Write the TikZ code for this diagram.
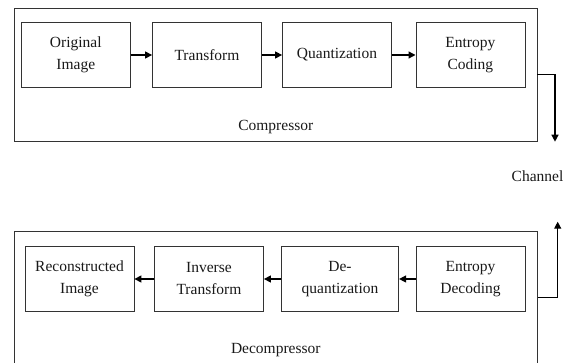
\documentclass[tikz,border=0pt]{standalone}
\usepackage{fontspec}
\setmainfont{Liberation Serif}
\usetikzlibrary{arrows.meta}

\tikzset{
  block/.style={draw=black!80, line width=0.8pt, minimum width=109pt, minimum height=64.6pt,
    inner sep=0pt, align=center, text=black!90, font=\fontsize{15.5}{22}\selectfont},
  stage/.style={draw=black!80, line width=0.8pt, minimum width=523pt, minimum height=132.5pt},
  lbl/.style={text=black!90, font=\fontsize{15.5}{22}\selectfont},
  arr/.style={line width=1.3pt, -{Triangle[length=7pt,width=7pt]}}
}

\begin{document}
\begin{tikzpicture}[x=1pt,y=-1pt]
  \useasboundingbox (0,0) rectangle (571,363);

  % Draw compressor stage with its four blocks
  \node[stage] (comp) at (275.5,74.75) {};
  \node[lbl] (complbl) at (275.8,126.7) {Compressor};
  \node[block] (orig) at (75.8,55) {Original\\Image};
  \node[block] (trans) at (207,55) {Transform};
  \node[block] (quant) at (337,55) {Quantization};
  \node[block] (coding) at (470.4,55) {Entropy\\Coding};

  % Connect compressor blocks left to right
  \foreach \a/\b in {orig/trans, trans/quant, quant/coding}
  \draw[arr] (\a) -- (\b);

  % Draw channel between both stages
  \coordinate (chout) at (555,141.7);
  \coordinate (chin) at (557.7,221.7);
  \node[lbl] (channel) at (537.5,176.7) {Channel};
  \draw[arr] (comp.east) -| (chout);

  % Draw decompressor stage with its four blocks
  \node[stage] (decomp) at (276,297.7) {};
  \node[lbl] (decomplbl) at (275.8,350) {Decompressor};
  \node[block] (recon) at (79.5,279) {Reconstructed\\Image};
  \node[block] (inv) at (209,279) {Inverse\\Transform};
  \node[block, minimum width=117.4pt] (dequant) at (340,279) {De-\\quantization};
  \node[block] (decoding) at (470.5,279) {Entropy\\Decoding};

  % Connect decompressor blocks right to left
  \foreach \a/\b in {decoding/dequant, dequant/inv, inv/recon}
  \draw[arr] (\a) -- (\b);
  \draw[arr] (decomp.east) -| (chin);
\end{tikzpicture}
\end{document}
